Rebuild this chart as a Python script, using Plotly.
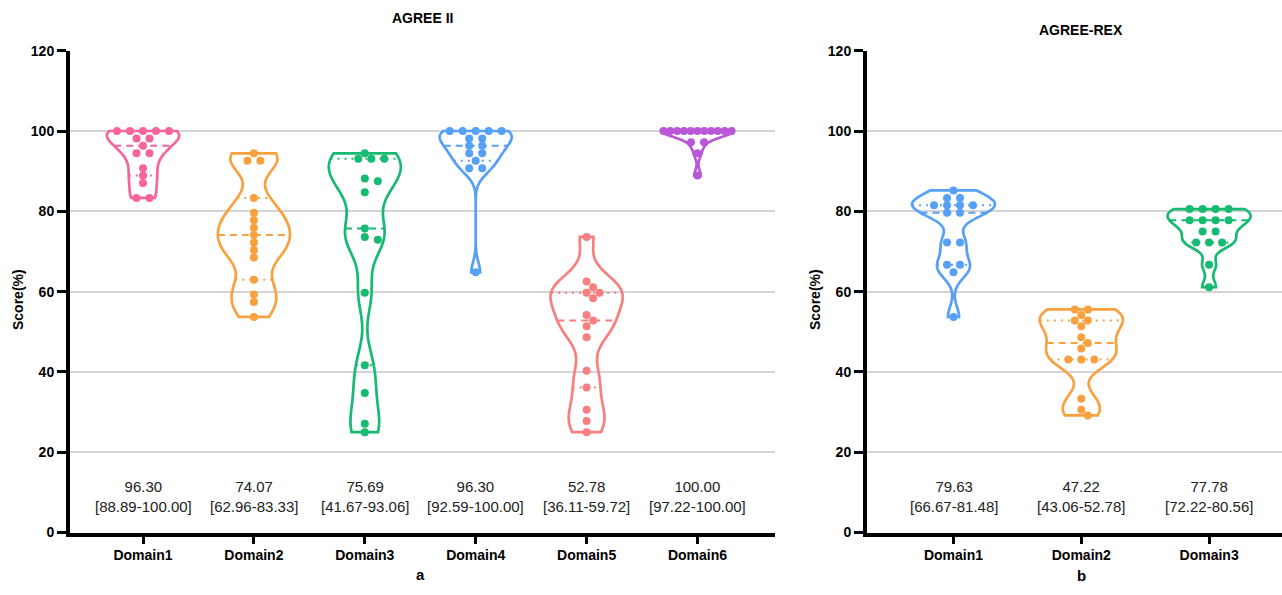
import numpy as np
import plotly.graph_objects as go

# ---------------- data ----------------
agree2_categories = ["Domain1", "Domain2", "Domain3", "Domain4", "Domain5", "Domain6"]
agree2_d1 = [100, 100, 100, 100, 100, 98.15, 98.15, 96.30, 94.44, 94.44, 90.74, 88.89, 87.04, 83.33, 83.33]
agree2_d2 = [94.44, 92.59, 92.59, 83.33, 79.63, 77.78, 75.93, 74.07, 72.22, 70.37, 68.52, 62.96, 59.26, 57.41, 53.70]
agree2_d3 = [94.44, 93.06, 93.06, 93.06, 88.19, 87.50, 84.72, 75.69, 73.61, 72.92, 59.72, 41.67, 34.72, 27.08, 25.00]
agree2_d4 = [100, 100, 100, 100, 100, 98.15, 98.15, 96.30, 96.30, 94.44, 94.44, 92.59, 90.74, 90.74, 64.81]
agree2_d5 = [73.61, 62.50, 61.11, 59.72, 59.72, 58.33, 54.17, 52.78, 51.39, 48.61, 40.28, 36.11, 30.56, 27.78, 25.00]
agree2_d6 = [100, 100, 100, 100, 100, 100, 100, 100, 100, 100, 100, 97.22, 97.22, 94.44, 88.89]
agree2_medians = ["96.30", "74.07", "75.69", "96.30", "52.78", "100.00"]
agree2_iqr = ["[88.89-100.00]", "[62.96-83.33]", "[41.67-93.06]", "[92.59-100.00]", "[36.11-59.72]", "[97.22-100.00]"]

rex_categories = ["Domain1", "Domain2", "Domain3"]
rex_d1 = [85.19, 83.33, 83.33, 81.48, 81.48, 81.48, 81.48, 79.63, 79.63, 72.22, 72.22, 66.67, 66.67, 64.81, 53.70]
rex_d2 = [55.56, 55.56, 54.17, 52.78, 52.78, 51.39, 48.61, 47.22, 45.83, 43.06, 43.06, 43.06, 33.33, 30.56, 29.17]
rex_d3 = [80.56, 80.56, 80.56, 80.56, 77.78, 77.78, 77.78, 77.78, 75.00, 75.00, 72.22, 72.22, 72.22, 66.67, 61.11]
rex_medians = ["79.63", "47.22", "77.78"]
rex_iqr = ["[66.67-81.48]", "[43.06-52.78]", "[72.22-80.56]"]

# ---------------- styles ----------------
PINK, ORANGE, GREEN, BLUE, SALMON, PURPLE = "#F7659B", "#F9A03F", "#16BA70", "#56A0F5", "#F77F7F", "#B957D8"
agree2_colors = [PINK, ORANGE, GREEN, BLUE, SALMON, PURPLE]
agree2_bw = [2.6, 3.5, 5.0, 2.5, 4.0, 1.4]
rex_colors = [BLUE, ORANGE, GREEN]
rex_bw = [2.6, 3.0, 1.8]

W, H = 1282, 595
FONT = "Liberation Sans, Arial, sans-serif"
Y0_PX, Y120_PX = 532.5, 50.7
PX_PER_Y = (Y0_PX - Y120_PX) / 120.0

# panel geometry (pixels)
L_AX0, L_AX1, L_C0, L_STEP = 70, 775, 143, 110.9
R_AX0, R_AX1, R_C0, R_STEP = 867, 1282, 953.5, 127.8
VW = 0.65  # violin width in category units


def kde(vals, y, bw):
    v = np.asarray(vals, float)[:, None]
    return np.exp(-0.5 * ((np.asarray(y, float)[None, :] - v) / bw) ** 2).sum(0)


def swarm(values, px_per_x, spacing=13.0, dmin=7.2, maxspread=68.0):
    vals = sorted(values, reverse=True)
    placed, ox, oy = [], [], []
    for v in sorted(set(vals), reverse=True):
        k = vals.count(v)
        s = spacing if k == 1 else min(spacing, maxspread / (k - 1))
        base = [(i - (k - 1) / 2) * s for i in range(k)]
        yp = v * PX_PER_Y
        xs = base
        for shift in [0, s / 2, -s / 2, s, -s, 1.5 * s, -1.5 * s, 2 * s, -2 * s]:
            xs = [b + shift for b in base]
            if all(np.hypot(x - px, yp - py) >= dmin for x in xs for (px, py) in placed):
                break
        for x in xs:
            placed.append((x, yp))
            ox.append(x / px_per_x)
            oy.append(v)
    return ox, oy


fig = go.Figure()


def add_panel(series, colors, bws, xa, ya, px_per_x):
    for i, (vals, col, bw) in enumerate(zip(series, colors, bws)):
        fig.add_trace(go.Violin(
            x=[i] * len(vals), y=vals, xaxis=xa, yaxis=ya,
            line=dict(color=col, width=2.7), fillcolor="rgba(255,255,255,0)",
            points=False, width=VW, scalemode="width", spanmode="hard",
            bandwidth=bw, showlegend=False, hoverinfo="skip",
            box_visible=False, meanline_visible=False))
        arr = np.asarray(vals, float)
        q1, med, q3 = np.percentile(arr, [25, 50, 75], method="weibull")
        grid = np.linspace(arr.min(), arr.max(), 400)
        dmax = kde(vals, grid, bw).max()
        for q, dash in [(q1, "2px,5px"), (q3, "2px,5px"), (med, "7px,5px")]:
            hw = VW / 2 * kde(vals, [q], bw)[0] / dmax
            fig.add_trace(go.Scatter(
                x=[i - hw, i + hw], y=[q, q], mode="lines", xaxis=xa, yaxis=ya,
                line=dict(color=col, width=2, dash=dash),
                showlegend=False, hoverinfo="skip"))
    for i, (vals, col) in enumerate(zip(series, colors)):
        sx, sy = swarm(vals, px_per_x)
        fig.add_trace(go.Scatter(
            x=[i + dx for dx in sx], y=sy, mode="markers", xaxis=xa, yaxis=ya,
            marker=dict(color=col, size=8, line=dict(width=0)),
            showlegend=False, hoverinfo="skip"))


add_panel([agree2_d1, agree2_d2, agree2_d3, agree2_d4, agree2_d5, agree2_d6],
          agree2_colors, agree2_bw, "x", "y", L_STEP)
add_panel([rex_d1, rex_d2, rex_d3], rex_colors, rex_bw, "x2", "y2", R_STEP)

ydom = [1 - Y0_PX / H, 1 - Y120_PX / H]
tickfont = dict(family=FONT, size=14, color="black", weight="bold")


def xaxis_cfg(ax0, ax1, c0, step, cats):
    return dict(
        domain=[ax0 / W, ax1 / W],
        range=[(ax0 - c0) / step, (ax1 - c0) / step],
        tickmode="array", tickvals=list(range(len(cats))), ticktext=cats,
        ticks="outside", ticklen=7, tickwidth=3, tickcolor="black",
        showline=True, linewidth=4, linecolor="black",
        showgrid=False, zeroline=False, tickfont=tickfont, automargin=False)


def yaxis_cfg(anchor):
    return dict(
        domain=ydom, range=[0, 120], anchor=anchor,
        tickmode="array", tickvals=[0, 20, 40, 60, 80, 100, 120],
        ticks="outside", ticklen=9, tickwidth=3, tickcolor="black",
        showline=True, linewidth=4, linecolor="black",
        showgrid=True, gridcolor="#D4D4D4", gridwidth=2, zeroline=False,
        tickfont=tickfont, automargin=False)


fig.update_layout(
    width=W, height=H, margin=dict(l=0, r=0, t=0, b=0, pad=0),
    paper_bgcolor="white", plot_bgcolor="white", violinmode="overlay",
    xaxis=xaxis_cfg(L_AX0, L_AX1, L_C0, L_STEP, agree2_categories) | dict(anchor="y"),
    yaxis=yaxis_cfg("x"),
    xaxis2=xaxis_cfg(R_AX0, R_AX1, R_C0, R_STEP, rex_categories) | dict(anchor="y2"),
    yaxis2=yaxis_cfg("x2"),
)

ann = []
for i, (m, r) in enumerate(zip(agree2_medians, agree2_iqr)):
    ann.append(dict(x=i, y=9.0, xref="x", yref="y", text=f"{m}<br>{r}", showarrow=False,
                    font=dict(family=FONT, size=15, color="#222"), align="center"))
for i, (m, r) in enumerate(zip(rex_medians, rex_iqr)):
    ann.append(dict(x=i, y=9.0, xref="x2", yref="y2", text=f"{m}<br>{r}", showarrow=False,
                    font=dict(family=FONT, size=15, color="#222"), align="center"))


def pann(text, xp, yp, size=14, angle=0):
    return dict(x=xp / W, y=1 - yp / H, xref="paper", yref="paper", text=text,
                showarrow=False, textangle=angle, xanchor="center", yanchor="middle",
                font=dict(family=FONT, size=size, color="black", weight="bold"))


ann += [
    pann("AGREE II", 422, 18),
    pann("AGREE-REX", 1081, 30),
    pann("Score(%)", 18, 300, 14, -90),
    pann("Score(%)", 815, 300, 14, -90),
    pann("a", 420, 574, 15),
    pann("b", 1081, 575, 15),
]
fig.update_layout(annotations=ann)

fig.write_html("out.html", config={"displayModeBar": False},
               post_script="document.body.style.margin='0';document.body.style.overflow='hidden';")
